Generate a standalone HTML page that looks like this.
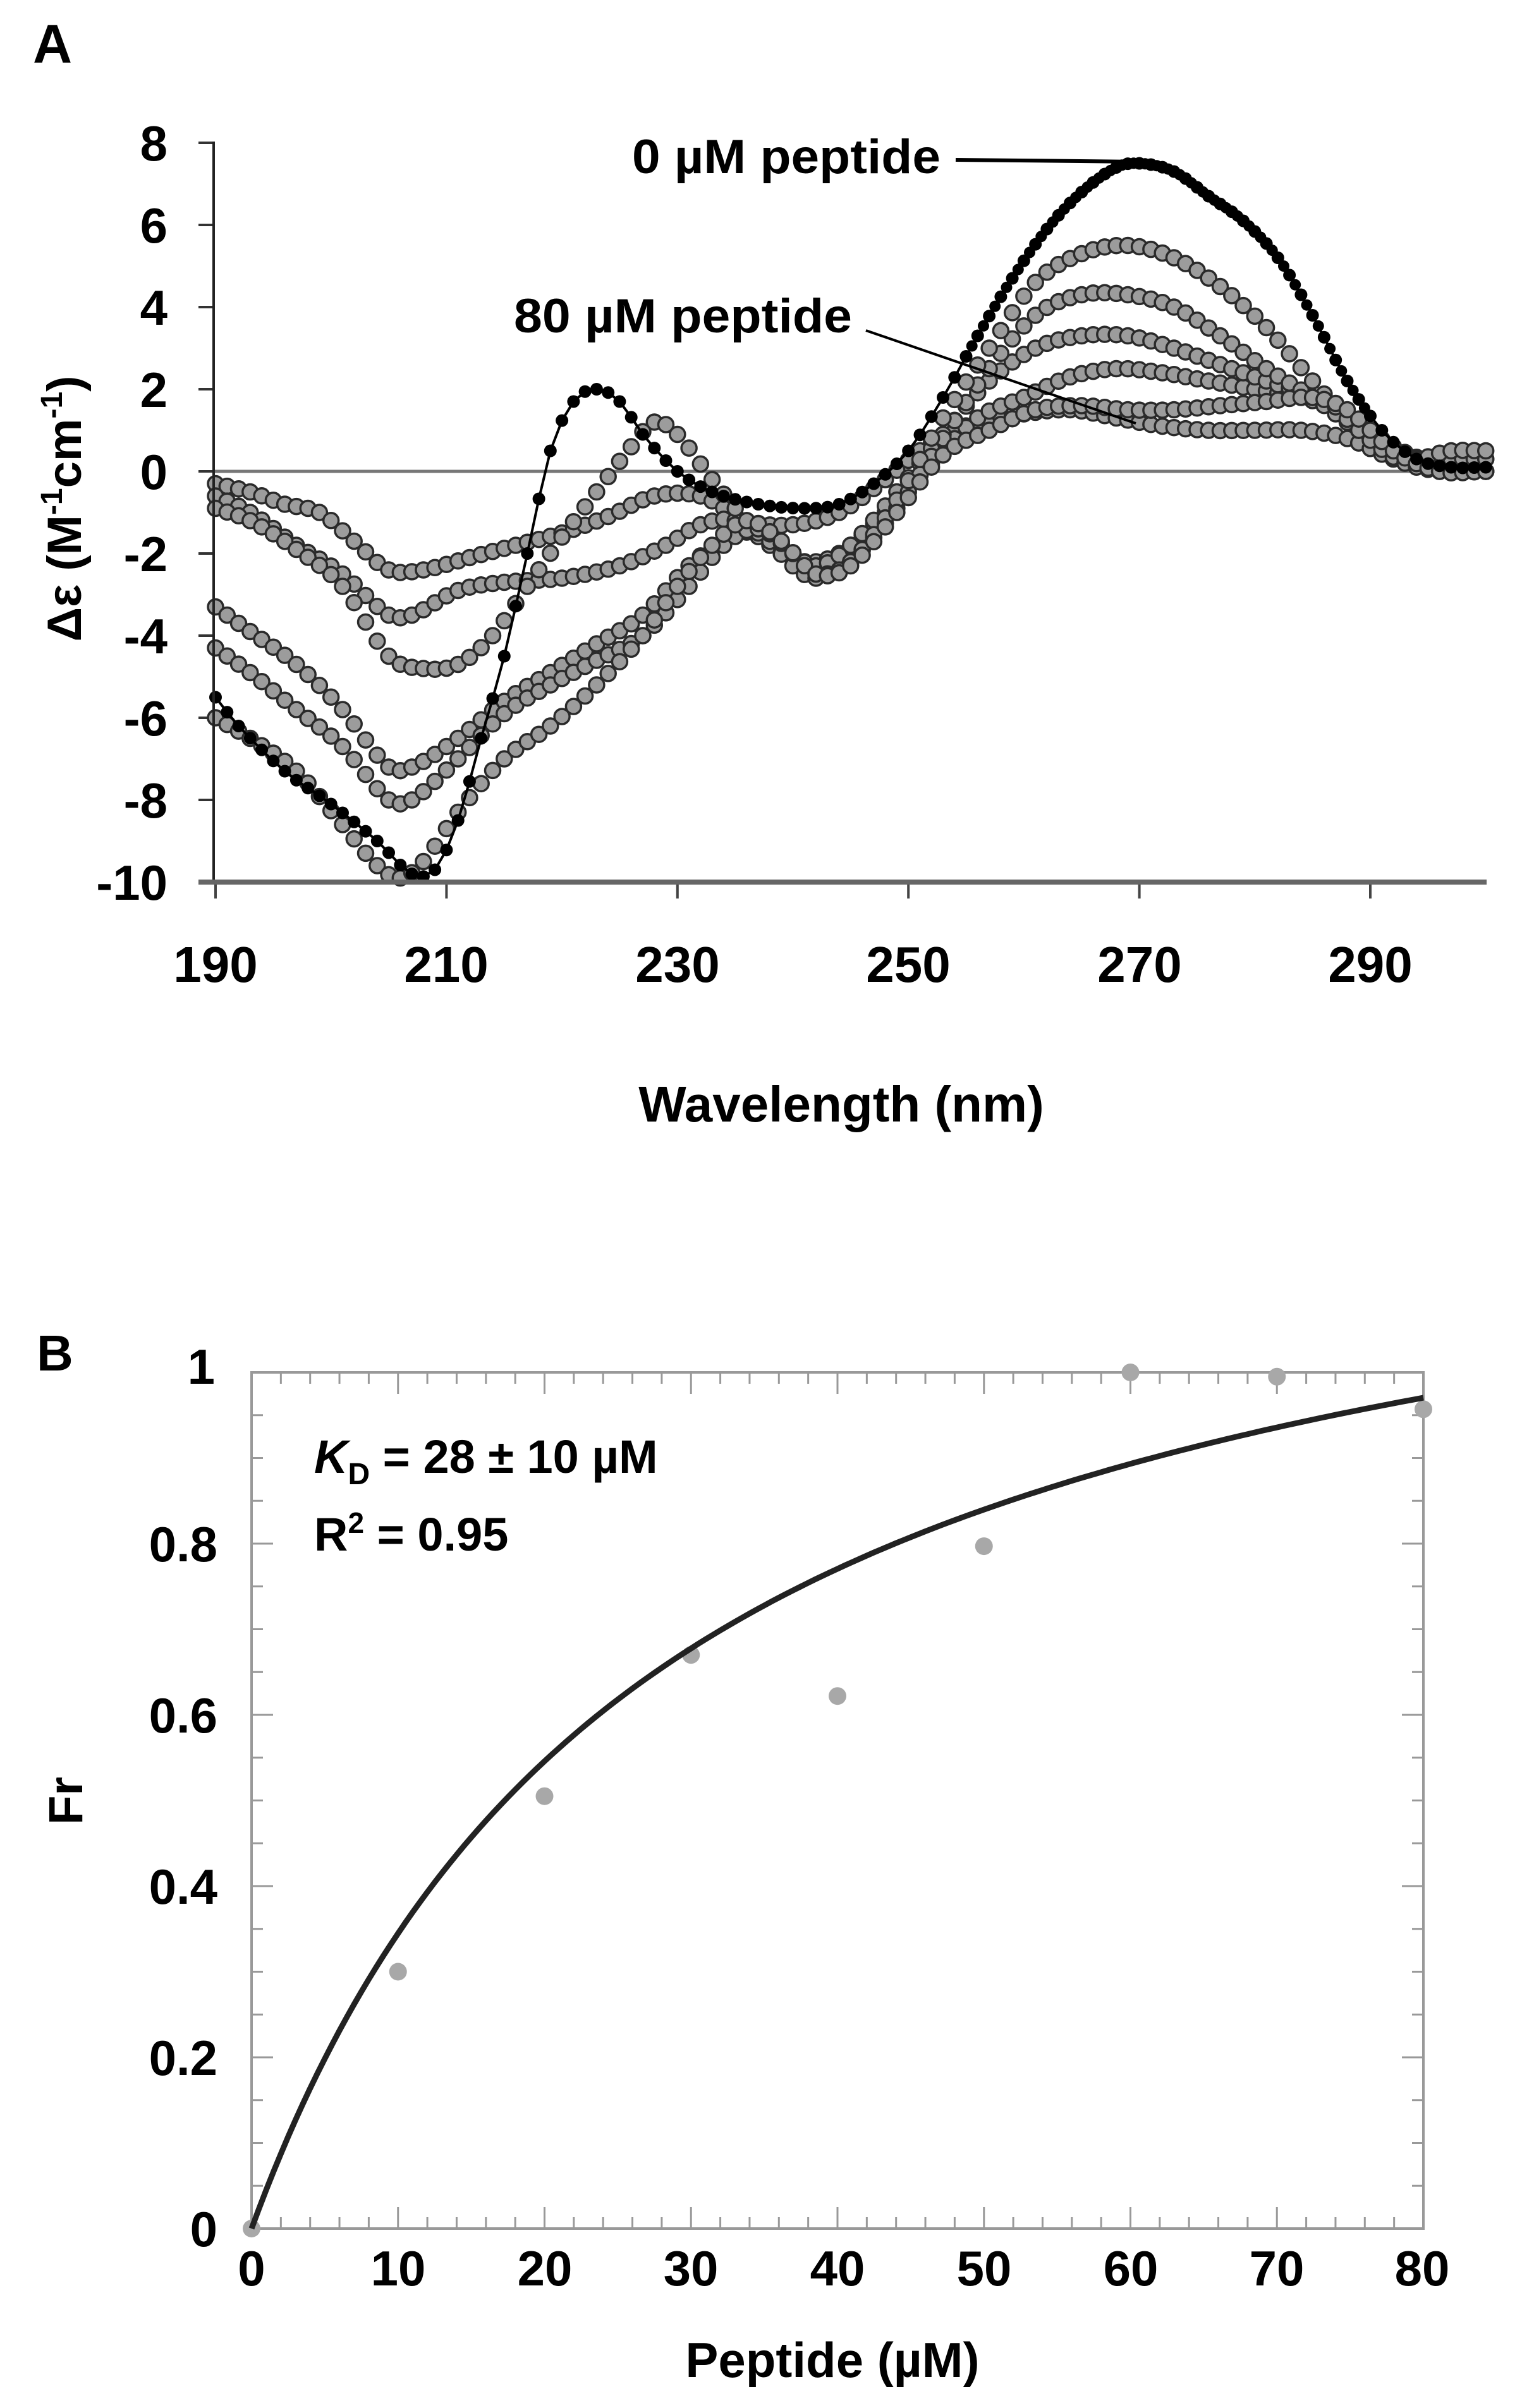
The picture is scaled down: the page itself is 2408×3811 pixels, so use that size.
<!DOCTYPE html>
<html><head><meta charset="utf-8"><style>
html,body{margin:0;padding:0;background:#fff}
svg{display:block}
text{font-family:"Liberation Sans",Arial,sans-serif;font-weight:bold;fill:#000}
</style></head><body>
<svg id="s" width="2408" height="3811" viewBox="0 0 2408 3811" xmlns="http://www.w3.org/2000/svg">
<rect width="2408" height="3811" fill="#fff"/>
<!-- Panel A -->
<text x="52" y="99" font-size="86">A</text>
<g id="aAxes"></g>
<line x1="338" y1="746" x2="2352" y2="746" stroke="#777" stroke-width="5"/>
<g id="aData"></g>
<line x1="338" y1="224" x2="338" y2="1398" stroke="#222" stroke-width="4"/>
<line x1="314" y1="1396" x2="2352" y2="1396" stroke="#666" stroke-width="8"/>
<g font-size="78" text-anchor="end">
<text x="265" y="254">8</text><text x="265" y="384">6</text><text x="265" y="514">4</text>
<text x="265" y="644">2</text><text x="265" y="774">0</text><text x="265" y="904">-2</text>
<text x="265" y="1034">-4</text><text x="265" y="1164">-6</text><text x="265" y="1294">-8</text>
<text x="265" y="1424">-10</text>
</g>
<g font-size="80" text-anchor="middle">
<text x="341" y="1554">190</text><text x="706" y="1554">210</text><text x="1072" y="1554">230</text>
<text x="1437" y="1554">250</text><text x="1803" y="1554">270</text><text x="2168" y="1554">290</text>
</g>
<text x="1331" y="1775" font-size="80" text-anchor="middle">Wavelength (nm)</text>
<text transform="translate(128,805) rotate(-90)" font-size="76" text-anchor="middle">Δε (M<tspan font-size="48" dy="-30">-1</tspan><tspan dy="30">cm</tspan><tspan font-size="48" dy="-30">-1</tspan><tspan dy="30">)</tspan></text>
<text x="1000" y="274" font-size="76" textLength="488" lengthAdjust="spacingAndGlyphs">0 µM peptide</text>
<line x1="1512" y1="253" x2="1805" y2="256" stroke="#000" stroke-width="6"/>
<text x="813" y="526" font-size="76" textLength="535" lengthAdjust="spacingAndGlyphs">80 µM peptide</text>
<line x1="1370" y1="523" x2="1797" y2="670" stroke="#000" stroke-width="4"/>

<!-- Panel B -->
<text x="58" y="2169" font-size="80">B</text>
<g id="bAxes"></g>
<rect x="398" y="2172" width="1854" height="1355" fill="none" stroke="#999" stroke-width="4"/>
<g font-size="78" text-anchor="end">
<text x="340" y="2190">1</text><text x="344" y="2471">0.8</text><text x="344" y="2742">0.6</text>
<text x="344" y="3013">0.4</text><text x="344" y="3284">0.2</text><text x="344" y="3555">0</text>
</g>
<g font-size="78" text-anchor="middle">
<text x="398" y="3617">0</text><text x="630" y="3617">10</text><text x="862" y="3617">20</text>
<text x="1093" y="3617">30</text><text x="1325" y="3617">40</text><text x="1557" y="3617">50</text>
<text x="1789" y="3617">60</text><text x="2020" y="3617">70</text><text x="2250" y="3617">80</text>
</g>
<text x="1317" y="3762" font-size="78" text-anchor="middle">Peptide (µM)</text>
<text transform="translate(130,2850) rotate(-90)" font-size="76" text-anchor="middle">Fr</text>
<g id="bData"></g>
<text x="497" y="2331" font-size="74"><tspan font-style="italic">K</tspan><tspan font-size="48" dy="18">D</tspan><tspan dy="-18"> = 28 ± 10 µM</tspan></text>
<text x="497" y="2454" font-size="74">R<tspan font-size="46" dy="-28">2</tspan><tspan dy="28"> = 0.95</tspan></text>
</svg>
<script>
(function(){
var NS="http://www.w3.org/2000/svg";
function el(p,n,a){var e=document.createElementNS(NS,n);for(var k in a)e.setAttribute(k,a[k]);p.appendChild(e);return e;}
var ax=document.getElementById('aAxes');
for(var v=8;v>=-10;v-=2){var y=746-65*v;el(ax,'line',{x1:314,y1:y,x2:338,y2:y,stroke:'#333','stroke-width':4});}
for(var n=190;n<=290;n+=20){var x=341+(n-190)*18.27;el(ax,'line',{x1:x,y1:1396,x2:x,y2:1422,stroke:'#444','stroke-width':4});}
function X(n){return 341+(n-190)*18.27;} function Y(v){return 746-65*v;}
function interp(pts,step){
  var out=[];step=step||1;
  for(var n=190;n<=300.001;n+=step){
    var i=0; while(i<pts.length-2 && pts[i+1][0]<n) i++;
    var p0=pts[Math.max(0,i-1)],p1=pts[i],p2=pts[i+1],p3=pts[Math.min(pts.length-1,i+2)];
    var t=(n-p1[0])/(p2[0]-p1[0]); if(t<0)t=0; if(t>1)t=1;
    var m1=(p2[1]-p0[1])/(p2[0]-p0[0])*(p2[0]-p1[0]);
    var m2=(p3[1]-p1[1])/(p3[0]-p1[0])*(p2[0]-p1[0]);
    var t2=t*t,t3=t2*t;
    var v=(2*t3-3*t2+1)*p1[1]+(t3-2*t2+t)*m1+(-2*t3+3*t2)*p2[1]+(t3-t2)*m2;
    out.push([n,v]);
  }
  return out;
}
function P(s){return s.split(',').map(function(q){var a=q.split(':');return [+a[0],+a[1]];});}
var grays=[
"190:-0.3,193:-0.5,196:-0.8,199:-1.0,202:-1.7,205:-2.4,208:-2.4,212:-2.1,216:-1.8,220:-1.5,224:-1.1,228:-0.6,232:-0.6,236:-1.2,240:-1.3,244:-1.0,248:-0.2,252:0.7,256:1.2,260:1.4,264:1.5,268:1.3,272:1.1,276:1.0,280:1.0,284:1.0,288:0.8,292:0.3,296:0.0,300:0.0",
"190:-0.6,193:-1.0,197:-1.8,201:-2.5,205:-3.5,207:-3.5,211:-2.9,215:-2.7,220:-2.6,225:-2.3,229:-1.8,232:-1.3,235:-1.2,238:-1.8,241:-2.2,244:-2.0,248:-1.0,252:0.2,256:1.3,260:1.8,264:2.3,268:2.5,272:2.4,276:2.2,280:2.0,284:1.8,288:1.4,292:0.6,296:0.2,300:0.3",
"190:-0.9,193:-1.2,197:-1.9,201:-2.8,205:-4.5,208:-4.8,211:-4.7,214:-4.0,217:-2.8,220:-1.6,223:-0.5,226:0.6,228:1.2,230:0.9,233:-0.2,236:-1.2,239:-1.8,242:-2.3,245:-1.8,249:-0.5,253:0.9,257:2.2,261:3.0,265:3.3,269:3.3,273:3.0,277:2.6,281:2.2,285:1.8,289:1.0,293:0.3,297:0.3,300:0.3",
"190:-3.3,193:-3.9,197:-4.7,201:-5.8,205:-7.2,207:-7.2,211:-6.5,215:-5.6,219:-4.9,223:-4.2,227:-3.5,231:-2.3,234:-1.7,237:-1.5,240:-2.3,242:-2.6,245:-2.2,249:-0.9,253:0.8,257:2.5,261:3.8,265:4.3,269:4.3,273:4.0,277:3.3,281:2.5,285:1.8,289:1.0,293:0.3,297:0.5,300:0.5",
"190:-4.3,193:-4.9,197:-5.8,201:-6.7,205:-8.0,207:-8.0,211:-7.0,215:-5.9,219:-5.2,223:-4.6,227:-4.0,231:-2.8,234:-1.8,237:-1.4,240:-2.0,242:-2.5,245:-2.2,249:-0.7,253:1.3,257:3.0,261:4.6,265:5.3,269:5.5,273:5.2,277:4.5,281:3.5,285:2.2,289:1.0,293:0.2,297:0.0,300:0.0",
"190:-6.0,193:-6.5,197:-7.3,201:-8.6,204:-9.6,206:-9.9,208:-9.5,211:-8.3,215:-7.0,219:-6.2,223:-5.2,227:-4.0,230:-2.8,233:-1.8,236:-1.2,239:-1.7,242:-2.5,245:-2.3,249:-1.0,253:0.4,257:1.0,261:1.5,265:1.6,269:1.5,273:1.5,277:1.6,281:1.7,285:1.8,288:1.5,292:0.5,296:0.0,300:0.0"
];
var black="190:-5.5,192:-6.2,196:-7.3,200:-8.1,204:-9.0,207:-9.8,209:-9.7,211:-8.5,213:-6.5,215:-4.5,217:-2.0,219:0.5,221:1.7,223:2.0,225:1.7,227:0.9,230:0.0,233:-0.5,237:-0.8,241:-0.9,244:-0.8,247:-0.3,250:0.5,253:1.8,256:3.3,259:4.7,262:5.9,265:6.8,268:7.4,270:7.5,273:7.3,276:6.7,279:6.1,282:5.2,285:3.8,288:2.2,291:1.0,294:0.3,297:0.1,300:0.1";
var ad=document.getElementById('aData');
grays.forEach(function(s){
  interp(P(s)).forEach(function(p){
    if(p[1]<-10.1)return;
    el(ad,'circle',{cx:X(p[0]).toFixed(1),cy:Y(p[1]).toFixed(1),r:12,fill:'#9c9c9c',stroke:'#2a2a2a','stroke-width':3.5});
  });
});
var bp=interp(P(black));
el(ad,'polyline',{points:bp.map(function(p){return X(p[0]).toFixed(1)+','+Y(p[1]).toFixed(1);}).join(' '),fill:'none',stroke:'#000','stroke-width':4});
bp.forEach(function(p){el(ad,'circle',{cx:X(p[0]).toFixed(1),cy:Y(p[1]).toFixed(1),r:10,fill:'#000'});});
interp(P(black),0.5).forEach(function(p){if(p[0]>255&&p[0]<290)el(ad,'circle',{cx:X(p[0]).toFixed(1),cy:Y(p[1]).toFixed(1),r:9,fill:'#000'});});
var bx=document.getElementById('bAxes');
function BX(c){return 398+c*23.175;} function BY(f){return 3527-f*1355;}
for(var c=2;c<80;c+=2){var x=BX(c),L=(c%10==0)?34:18;
  el(bx,'line',{x1:x,y1:3527,x2:x,y2:3527-L,stroke:'#999','stroke-width':3});
  el(bx,'line',{x1:x,y1:2172,x2:x,y2:2172+L,stroke:'#999','stroke-width':3});}
for(var k=1;k<20;k++){var y=BY(k*0.05),L=(k%4==0)?34:18;
  el(bx,'line',{x1:398,y1:y,x2:398+L,y2:y,stroke:'#999','stroke-width':3});
  el(bx,'line',{x1:2252,y1:y,x2:2252-L,y2:y,stroke:'#999','stroke-width':3});}
var bd=document.getElementById('bData');
var pts=[[0,0],[10,0.30],[20,0.505],[30,0.67],[40,0.622],[50,0.797],[60,1.0],[70,0.995],[80,0.957]];
pts.forEach(function(p){el(bd,'circle',{cx:BX(p[0]),cy:BY(p[1]),r:14,fill:'#a8a8a8'});});
var d=[];for(var c=0;c<=80;c+=0.5){d.push(BX(c).toFixed(1)+','+BY(1.31*c/(28+c)).toFixed(1));}
el(bd,'polyline',{points:d.join(' '),fill:'none',stroke:'#222','stroke-width':9});
})();
</script>
</body></html>
